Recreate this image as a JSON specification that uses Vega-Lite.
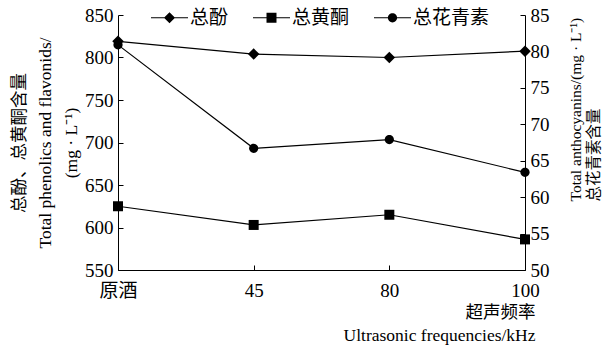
{
  "$schema": "https://vega.github.io/schema/vega-lite/v6.json",
  "width": 407,
  "height": 255,
  "autosize": {"type": "none"},
  "padding": {"left": 118, "top": 15, "right": 78, "bottom": 77},
  "background": "white",
  "config": {
    "view": {"stroke": null},
    "font": "Liberation Serif, Noto Sans CJK SC, serif",
    "axis": {
      "domainColor": "black",
      "tickColor": "black",
      "labelColor": "black",
      "titleColor": "black",
      "labelFont": "Times New Roman, Liberation Serif, serif",
      "titleFont": "Liberation Serif, Noto Sans CJK SC, serif",
      "labelFontSize": 19,
      "titleFontSize": 17.5,
      "titleFontWeight": "normal",
      "grid": false,
      "tickSize": -5,
      "domainWidth": 1,
      "tickWidth": 1
    },
    "legend": {
      "labelFont": "Liberation Serif, Noto Sans CJK SC, serif",
      "labelColor": "black"
    }
  },
  "data": {
    "values": [
      {"freq": "原酒", "series": "总酚", "value": 819},
      {"freq": "45", "series": "总酚", "value": 804},
      {"freq": "80", "series": "总酚", "value": 800},
      {"freq": "100", "series": "总酚", "value": 807.5},
      {"freq": "原酒", "series": "总黄酮", "value": 625},
      {"freq": "45", "series": "总黄酮", "value": 603},
      {"freq": "80", "series": "总黄酮", "value": 615},
      {"freq": "100", "series": "总黄酮", "value": 586},
      {"freq": "原酒", "series": "总花青素", "value": 80.9},
      {"freq": "45", "series": "总花青素", "value": 66.7},
      {"freq": "80", "series": "总花青素", "value": 67.9},
      {"freq": "100", "series": "总花青素", "value": 63.4}
    ]
  },
  "encoding": {
    "x": {
      "field": "freq",
      "type": "ordinal",
      "scale": {"type": "point", "padding": 0, "domain": ["原酒", "45", "80", "100"]},
      "axis": {
        "labelAngle": 0,
        "labelPadding": 16,
        "labelFlush": false,
        "labelFont": "Times New Roman, Liberation Serif, Noto Sans CJK SC, serif",
        "title": ["超声频率", "Ultrasonic frequencies/kHz"],
        "titleAnchor": "end",
        "titleAlign": "right",
        "titleX": 417,
        "titlePadding": 3,
        "titleLineHeight": 23
      }
    }
  },
  "layer": [
    {
      "transform": [{"filter": "datum.series !== '总花青素'"}],
      "encoding": {
        "y": {
          "field": "value",
          "type": "quantitative",
          "scale": {"domain": [550, 850], "nice": false, "zero": false},
          "axis": {
            "orient": "left",
            "values": [550, 600, 650, 700, 750, 800, 850],
            "labelPadding": 10,
            "title": ["总酚、总黄酮含量", "Total phenolics and flavonids/", "(mg · L⁻¹)"],
            "titleLineHeight": 26,
            "titlePadding": 4
          }
        }
      },
      "layer": [
        {
          "mark": {"type": "line", "color": "black", "strokeWidth": 1.2},
          "encoding": {"detail": {"field": "series", "type": "nominal"}}
        },
        {
          "mark": {"type": "point", "filled": true, "color": "black", "size": 100, "opacity": 1},
          "encoding": {
            "shape": {
              "field": "series",
              "type": "nominal",
              "scale": {
                "domain": ["总酚", "总黄酮", "总花青素"],
                "range": [
                  "M0,-1.15L1.15,0L0,1.15L-1.15,0Z",
                  "M-1,-1H1V1H-1Z",
                  "M0.92,0A0.92,0.92,0,1,1,-0.92,0A0.92,0.92,0,1,1,0.92,0Z"
                ]
              },
              "legend": null
            }
          }
        }
      ]
    },
    {
      "transform": [{"filter": "datum.series === '总花青素'"}],
      "encoding": {
        "y": {
          "field": "value",
          "type": "quantitative",
          "scale": {"domain": [50, 85], "nice": false, "zero": false},
          "axis": {
            "orient": "right",
            "values": [50, 55, 60, 65, 70, 75, 80, 85],
            "labelPadding": 10,
            "title": ["Total anthocyanins/(mg · L⁻¹)", "总花青素含量"],
            "titleFontSize": 15.5,
            "titleAngle": 270,
            "titleAlign": "left",
            "titleY": 186,
            "titleLineHeight": 18,
            "titlePadding": 16
          }
        }
      },
      "layer": [
        {
          "mark": {"type": "line", "color": "black", "strokeWidth": 1.2},
          "encoding": {"detail": {"field": "series", "type": "nominal"}}
        },
        {
          "mark": {"type": "point", "filled": true, "color": "black", "size": 100, "opacity": 1},
          "encoding": {
            "shape": {
              "field": "series",
              "type": "nominal",
              "scale": {
                "domain": ["总酚", "总黄酮", "总花青素"],
                "range": [
                  "M0,-1.15L1.15,0L0,1.15L-1.15,0Z",
                  "M-1,-1H1V1H-1Z",
                  "M0.92,0A0.92,0.92,0,1,1,-0.92,0A0.92,0.92,0,1,1,0.92,0Z"
                ]
              },
              "legend": null
            }
          }
        }
      ]
    },
    {
      "mark": {"type": "point", "filled": true, "color": "black", "opacity": 0},
      "encoding": {
        "y": {"field": "value", "type": "quantitative", "axis": null},
        "shape": {
          "field": "series",
          "type": "nominal",
          "scale": {
            "domain": ["总酚", "总黄酮", "总花青素"],
            "range": [
              "M-1,-0.032H1V0.032H-1ZM0,-0.3L0.3,0L0,0.3L-0.3,0Z",
              "M-1,-0.032H1V0.032H-1ZM-0.27,-0.27H0.27V0.27H-0.27Z",
              "M-1,-0.032H1V0.032H-1ZM0.25,0A0.25,0.25,0,1,1,-0.25,0A0.25,0.25,0,1,1,0.25,0Z"
            ]
          },
          "legend": {
            "orient": "none",
            "legendX": 32,
            "legendY": -17,
            "direction": "horizontal",
            "title": null,
            "symbolSize": 1369,
            "symbolOpacity": 1,
            "symbolFillColor": "black",
            "labelFontSize": 19,
            "labelOffset": 1,
            "columnPadding": 21
          }
        }
      }
    }
  ],
  "resolve": {"scale": {"y": "independent", "shape": "independent"}}
}
